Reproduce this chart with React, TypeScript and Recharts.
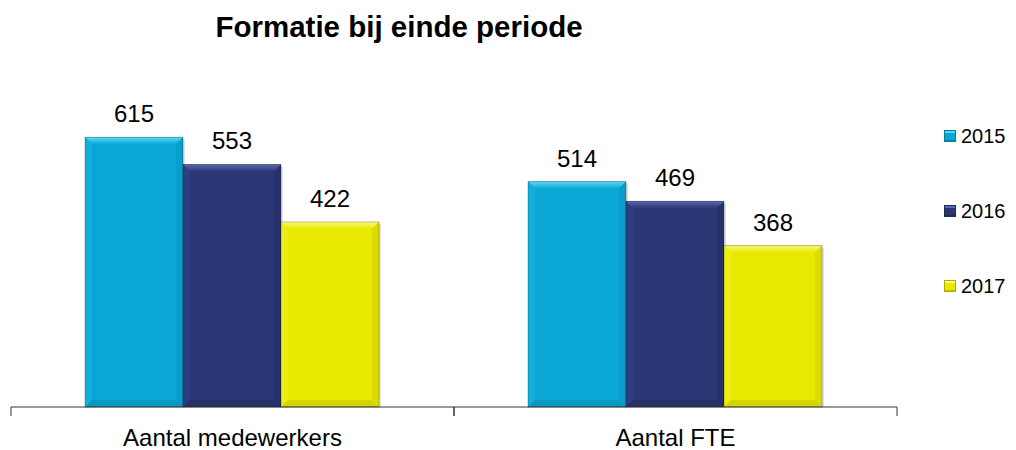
import React from "react";
import { BarChart, Bar, XAxis, YAxis, LabelList } from "recharts";

const categories = ["Aantal medewerkers", "Aantal FTE"];
const series = ["2015", "2016", "2017"];
const values2015 = [615, 514];
const values2016 = [553, 469];
const values2017 = [422, 368];

const colors: Record<string, { base: string; light: string; side: string; dark: string }> = {
  "2015": { base: "#0AA7D6", light: "#5CD8F6", side: "#12AEDC", dark: "#0789AE" },
  "2016": { base: "#2B3774", light: "#5868AE", side: "#303D80", dark: "#1F2858" },
  "2017": { base: "#E8E800", light: "#FAFA7A", side: "#EDED14", dark: "#BDBD00" },
};

const data = categories.map((c, i) => ({
  name: c,
  "2015": values2015[i],
  "2016": values2016[i],
  "2017": values2017[i],
}));

const W = 1016;
const H = 450;
const M = { top: 100, left: 11, right: 119, bottom: 0 };
const XAXIS_H = 43;
const HALF_BAND = (W - M.left - M.right) / categories.length / 2;
const FONT = "'Liberation Sans', Arial, sans-serif";

function BevelBar(props: any) {
  const { x, y, width, height, seriesKey } = props;
  if (!height || height <= 0) return null;
  const c = colors[seriesKey];
  const b = 7;
  const gid = `top-${seriesKey}`;
  return (
    <g>
      <defs>
        <linearGradient id={gid} x1="0" y1="0" x2="0" y2="1">
          <stop offset="0%" stopColor={c.light} />
          <stop offset="100%" stopColor={c.base} />
        </linearGradient>
      </defs>
      <rect x={x + width} y={y + 2} width={2} height={height - 2} fill="rgba(0,0,0,0.12)" />
      <rect x={x} y={y} width={width} height={height} fill={c.base} />
      <polygon points={`${x},${y} ${x + width},${y} ${x + width - b},${y + b} ${x + b},${y + b}`} fill={`url(#${gid})`} />
      <polygon points={`${x},${y} ${x + b},${y + b} ${x + b},${y + height - b} ${x},${y + height}`} fill={c.side} />
      <polygon points={`${x + width},${y} ${x + width - b},${y + b} ${x + width - b},${y + height - b} ${x + width},${y + height}`} fill={c.dark} opacity={0.3} />
      <polygon points={`${x},${y + height} ${x + b},${y + height - b} ${x + width - b},${y + height - b} ${x + width},${y + height}`} fill={c.dark} opacity={0.45} />
      <rect x={x} y={y} width={width} height={height} fill="none" stroke="rgba(0,0,0,0.25)" strokeWidth={1} />
    </g>
  );
}

function CatTick(props: any) {
  const { x, y, payload } = props;
  return (
    <g>
      <line x1={x - HALF_BAND} y1={y} x2={x - HALF_BAND} y2={y + 9} stroke="#333" strokeWidth={1} />
      <line x1={x + HALF_BAND} y1={y} x2={x + HALF_BAND} y2={y + 9} stroke="#333" strokeWidth={1} />
      <text x={x} y={y + 39} textAnchor="middle" fontSize={24} fontFamily={FONT} fill="#000">
        {payload.value}
      </text>
    </g>
  );
}

function LegendBox() {
  return (
    <div style={{ position: "absolute", left: 944, top: 124, width: 76, height: 200 }}>
      {series.map((s, i) => (
        <div
          key={s}
          style={{
            position: "absolute",
            left: 0,
            top: i * 75,
            height: 24,
            display: "flex",
            alignItems: "center",
            fontFamily: FONT,
            fontSize: 20,
            color: "#000",
          }}
        >
          <span
            style={{
              display: "inline-block",
              width: 10,
              height: 10,
              marginRight: 5,
              background: colors[s].base,
              boxShadow: `inset 0 2px 0 ${colors[s].light}, inset 0 -1px 0 ${colors[s].dark}`,
              border: "1px solid rgba(0,0,0,0.25)",
            }}
          />
          {s}
        </div>
      ))}
    </div>
  );
}

export default function App() {
  return (
    <div style={{ position: "absolute", left: 0, top: 0, width: W, height: H, background: "#fff" }}>
      <svg style={{ position: "absolute", left: 0, top: 0 }} width={W} height={60}>
        <text x={399} y={37} textAnchor="middle" fontSize={29.5} fontWeight="bold" fontFamily={FONT} fill="#000">
          Formatie bij einde periode
        </text>
      </svg>
      <div style={{ position: "absolute", left: 0, top: 0 }}>
        <BarChart width={W} height={H} data={data} margin={M} barCategoryGap={74} barGap={0}>
          <XAxis
            dataKey="name"
            height={XAXIS_H}
            axisLine={{ stroke: "#333", strokeWidth: 1 }}
            tickLine={false}
            tickSize={0}
            tickMargin={0}
            tick={<CatTick />}
            interval={0}
          />
          <YAxis hide domain={[0, 700]} />
          {series.map((s) => (
            <Bar
              key={s}
              dataKey={s}
              fill={colors[s].base}
              isAnimationActive={false}
              shape={(p: any) => <BevelBar {...p} seriesKey={s} />}
            >
              <LabelList dataKey={s} position="top" offset={15} fontSize={24} fontFamily={FONT} fill="#000" />
            </Bar>
          ))}
        </BarChart>
      </div>
      <LegendBox />
    </div>
  );
}
